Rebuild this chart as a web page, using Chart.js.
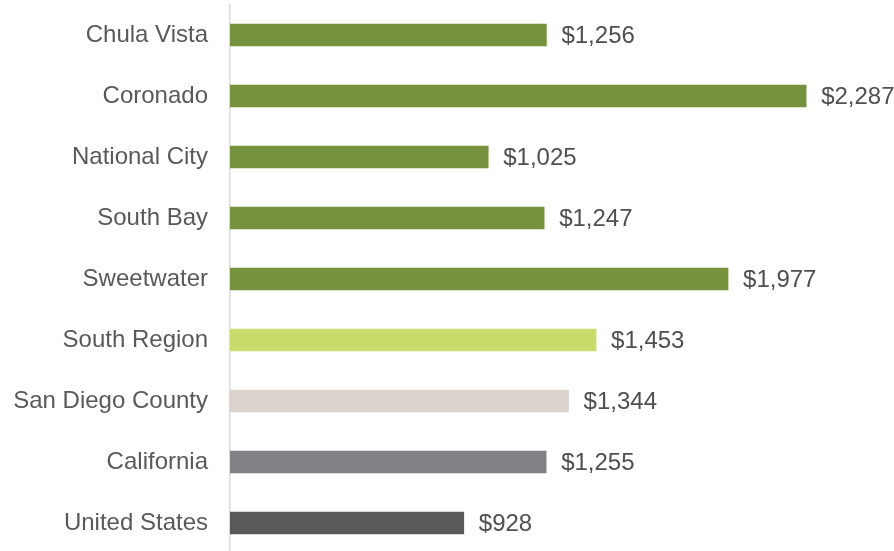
<!DOCTYPE html>
<html lang="en">
<head>
<meta charset="UTF-8" />
<title>Median cost by area</title>
<script src="https://cdn.jsdelivr.net/npm/chart.js"></script>
<style>
  html, body { margin: 0; padding: 0; background: #fff; overflow: hidden; }
  #wrap { width: 894px; height: 556px; }
</style>
</head>
<body>
<div id="wrap"><canvas id="grafico" width="894" height="556"></canvas></div>
<script>
// data
const areas = ['Chula Vista', 'Coronado', 'National City', 'South Bay', 'Sweetwater',
  'South Region', 'San Diego County', 'California', 'United States'];
const valores = [1256, 2287, 1025, 1247, 1977, 1453, 1344, 1255, 928];
const colores = ['#76923c', '#76923c', '#76923c', '#76923c', '#76923c',
  '#c8dc6c', '#dbd3ce', '#808285', '#595959'];

const fmt = v => '$' + v.toLocaleString('en-US');
const fuente = '"Liberation Sans", Arial, sans-serif';

// draw the value at the end of each bar
const etiquetas = {
  id: 'etiquetas',
  afterDatasetsDraw(chart) {
    const ctx = chart.ctx;
    const meta = chart.getDatasetMeta(0);
    ctx.save();
    ctx.font = '24px ' + fuente;
    ctx.fillStyle = '#4f4f4f';
    ctx.textAlign = 'left';
    ctx.textBaseline = 'middle';
    meta.data.forEach((bar, i) => {
      ctx.fillText(fmt(valores[i]), bar.x + 15, bar.y + 1);
    });
    ctx.restore();
  }
};

new Chart(document.getElementById('grafico'), {
  type: 'bar',
  data: {
    labels: areas,
    datasets: [{
      data: valores,
      backgroundColor: colores,
      borderWidth: 0,
      barThickness: 22
    }]
  },
  options: {
    indexAxis: 'y',
    responsive: false,
    animation: false,
    layout: { padding: { top: 4.5, right: 9, bottom: 2.5, left: 0 } },
    plugins: {
      legend: { display: false },
      tooltip: { enabled: false }
    },
    scales: {
      x: {
        min: 0,
        max: 2600,
        display: false
      },
      y: {
        grid: { display: false, drawTicks: false },
        border: { display: true, color: '#d9d9d9', width: 1.5 },
        afterFit(axis) {
          axis.width = 230;
          axis.paddingTop = 0;
          axis.paddingBottom = 0;
        },
        ticks: {
          padding: 22,
          color: '#595959',
          font: { family: fuente, size: 24 }
        }
      }
    }
  },
  plugins: [etiquetas]
});
</script>
</body>
</html>
